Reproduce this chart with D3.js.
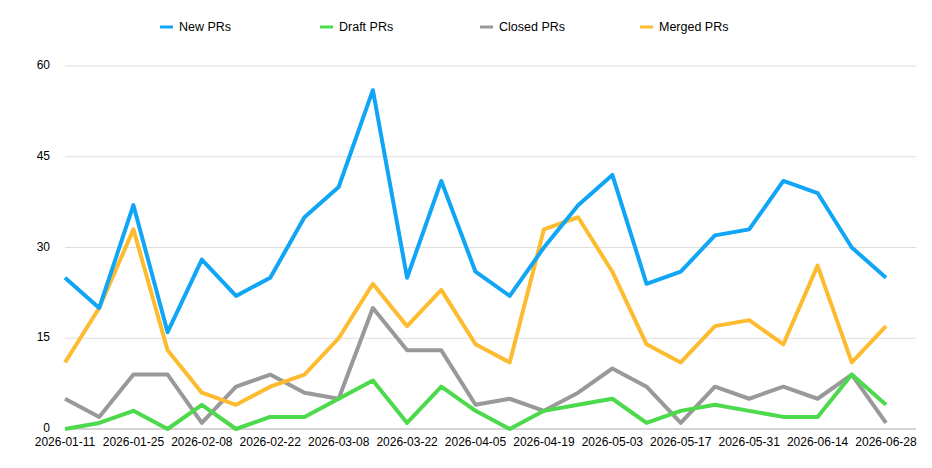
<!DOCTYPE html>
<html>
<head>
<meta charset="UTF-8" />
<style>
  body { margin: 0; background: #fff; font-family: "Helvetica Neue", Arial, "Liberation Sans", sans-serif; }
</style>
</head>
<body>
<div id="chart"></div>
<script src="https://d3js.org/d3.v7.min.js"></script>
<script>
const weeks = ['2026-01-11','2026-01-18','2026-01-25','2026-02-01','2026-02-08','2026-02-15','2026-02-22','2026-03-01','2026-03-08','2026-03-15','2026-03-22','2026-03-29','2026-04-05','2026-04-12','2026-04-19','2026-04-26','2026-05-03','2026-05-10','2026-05-17','2026-05-24','2026-05-31','2026-06-07','2026-06-14','2026-06-21','2026-06-28'];
const newPRs    = [25,20,37,16,28,22,25,35,40,56,25,41,26,22,30,37,42,24,26,32,33,41,39,30,25];
const draftPRs  = [0,1,3,0,4,0,2,2,5,8,1,7,3,0,3,4,5,1,3,4,3,2,2,9,4];
const closedPRs = [5,2,9,9,1,7,9,6,5,20,13,13,4,5,3,6,10,7,1,7,5,7,5,9,1];
const mergedPRs = [11,20,33,13,6,4,7,9,15,24,17,23,14,11,33,35,26,14,11,17,18,14,27,11,17];
const yTicks = [0,15,30,45,60];

const series = [
  { name: 'New PRs', values: newPRs, color: '#10a5f5' },
  { name: 'Draft PRs', values: draftPRs, color: '#4cd94c' },
  { name: 'Closed PRs', values: closedPRs, color: '#999999' },
  { name: 'Merged PRs', values: mergedPRs, color: '#fdbb30' }
];
// draw order: grey/green under, blue/orange on top
const drawOrder = [2, 1, 3, 0];

const width = 932, height = 468;
const svg = d3.select('#chart').append('svg').attr('width', width).attr('height', height);

const x = d3.scalePoint().domain(weeks).range([65, 886]);
const y = d3.scaleLinear().domain([0, 60]).range([429, 66]);

// grid
svg.selectAll('line.grid').data(yTicks).enter().append('line')
  .attr('x1', 65).attr('x2', 916)
  .attr('y1', d => y(d)).attr('y2', d => y(d))
  .attr('stroke', d => d === 0 ? '#aaa' : '#ddd').attr('stroke-width', 1);

svg.selectAll('text.ytick').data(yTicks).enter().append('text')
  .attr('x', 50).attr('y', d => y(d) + 3)
  .attr('text-anchor', 'end').attr('font-size', 12).attr('fill', '#000')
  .text(d => d);

svg.selectAll('text.xtick').data(weeks.filter((d, i) => i % 2 === 0)).enter().append('text')
  .attr('x', d => x(d)).attr('y', 446)
  .attr('text-anchor', 'middle').attr('font-size', 12).attr('fill', '#000')
  .text(d => d);

const line = d3.line().x((d, i) => x(weeks[i])).y(d => y(d));
drawOrder.forEach(k => {
  const s = series[k];
  svg.append('path').datum(s.values)
    .attr('d', line).attr('fill', 'none')
    .attr('stroke', s.color).attr('stroke-width', 4)
    .attr('stroke-linejoin', 'round');
});

// legend
const legend = svg.selectAll('g.leg').data(series).enter().append('g')
  .attr('transform', (d, i) => `translate(${160 + i * 160},27)`);
legend.append('line').attr('x1', 0).attr('x2', 13).attr('stroke', d => d.color).attr('stroke-width', 3);
legend.append('text').attr('x', 19).attr('y', 4).attr('font-size', 12.5).attr('fill', '#000').text(d => d.name);
</script>
</body>
</html>
